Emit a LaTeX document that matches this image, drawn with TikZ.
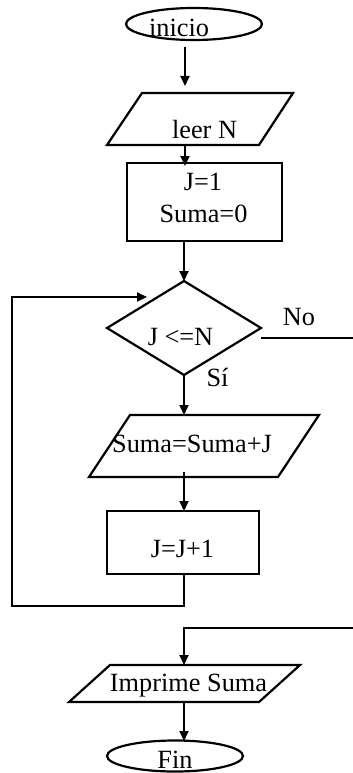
\documentclass[tikz,border=0pt]{standalone}
\usepackage{fontspec}
\setmainfont{Liberation Serif}
\usetikzlibrary{arrows.meta,shapes.geometric}
\begin{document}
\begin{tikzpicture}[x=1pt,y=-1pt,line width=2pt,
  shp/.style={draw,line width=2.2pt,line join=miter,inner sep=0pt,outer sep=0pt},
  arr/.style={-{Triangle[length=10pt,width=9pt]}},
  lbl/.style={anchor=base,inner sep=0pt,font=\fontsize{26.3}{30}\selectfont}]
\useasboundingbox (0,0) rectangle (353,773);
% shapes
\node[shp,ellipse,minimum width=136pt,minimum height=32pt] (inicio) at (194,24) {};
\draw[shp] (142,93) coordinate (leer-tl) -- (293,93) -- (259,145) -- (107,145) -- cycle;
\node[shp,rectangle,minimum width=155pt,minimum height=78pt,anchor=north west] (init) at (127,163) {};
\draw[shp] (184,281) coordinate (cond-n) -- (261,328) coordinate (cond-e) -- (184,375) coordinate (cond-s) -- (107,328) coordinate (cond-w) -- cycle;
\draw[shp] (130,415) -- (319,415) -- (278,477) -- (89,477) -- cycle;
\node[shp,rectangle,minimum width=152pt,minimum height=63pt,anchor=north west] (incr) at (107,511) {};
\draw[shp] (110,665) -- (300,665) -- (259,702) -- (69,702) -- cycle;
\node[shp,ellipse,minimum width=136pt,minimum height=31pt] (fin) at (175,756) {};
% texts
\node[lbl] (t-inicio) at (179,36.5) {inicio};
\node[lbl] (t-leer) at (204.5,139) {leer N};
\node[lbl] (t-j1) at (203,190) {J=1};
\node[lbl] (t-s0) at (203.5,222) {Suma=0};
\node[lbl] (t-cond) at (180.5,345) {J <=N};
\node[lbl] (t-no) at (299,325) {No};
\node[lbl] (t-si) at (217.5,386) {Sí};
\node[lbl] (t-sum) at (192,452) {Suma=Suma+J};
\node[lbl] (t-inc) at (182.5,557) {J=J+1};
\node[lbl] (t-imp) at (188.5,691) {Imprime Suma};
\node[lbl] (t-fin) at (175,768) {Fin};
% connector points
\coordinate (a1s) at (185,47);   \coordinate (a1e) at (185,86);
\coordinate (a2s) at (185,145);  \coordinate (a2e) at (185,166);
\coordinate (a3s) at (184,241);
\coordinate (a5s) at (184,472);  \coordinate (a5e) at (184,511);
\coordinate (lps) at (184,574);  \coordinate (lpc) at (12,606);  \coordinate (lpe) at (147,297);
\coordinate (nos) at (261,338);  \coordinate (noe) at (353,338);
\coordinate (rts) at (353,628);  \coordinate (rte) at (184,665);
\coordinate (a6s) at (184,702);  \coordinate (a6e) at (184,741);
\coordinate (a4e) at (184,415);
% connectors
\draw[arr] (a1s) -- (a1e);
\draw[arr] (a2s) -- (a2e);
\draw[arr] (a3s) -- (cond-n);
\draw[arr] (cond-s) -- (a4e);
\draw[arr] (a5s) -- (a5e);
\draw[arr] (lps) |- (lpc) |- (lpe);
\draw (nos) -- (noe);
\draw[arr] (rts) -| (rte);
\draw[arr] (a6s) -- (a6e);
\end{tikzpicture}
\end{document}
